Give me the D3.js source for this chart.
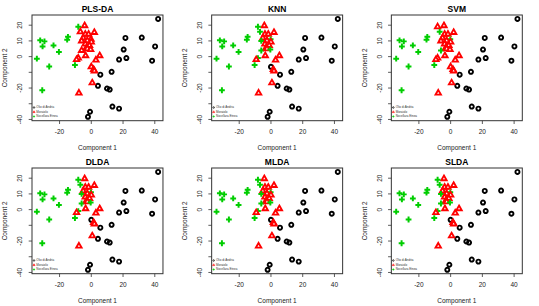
<!DOCTYPE html>
<html>
<head>
<meta charset="utf-8">
<script src="https://cdn.jsdelivr.net/npm/d3@7"></script>
<style>
  body { margin: 0; background: #fff; }
  svg { display: block; }
  text { font-family: "Liberation Sans", Arial, sans-serif; }
</style>
</head>
<body>
<svg id="chart" width="539" height="306"></svg>
<script>
// sample scores on the first two components (same for every panel)
const comp1 = [42.1, 21.5, 31.8, 40.2, 20.4, 17.5, 22.1, 38.3, 12.8, 5.7, 4.2, 9.9, 11.6, 13.3, 17.5, -0.8, -2.1,
  0.0, -4.2, -8.2, -6.9, 1.9, -3.8, -1.7, -5.1, -0.2, -6.1, -2.5, 0.0, -3.8, -1.1, -3.2, -6.1, -2.5, -0.4,
  -3.6, 5.3, -8.2, -9.3, 2.9, 1.5, 1.9, 0.6, -7.8,
  -14.7, -15.2, -32.2, -29.5, -30.7, -23.8, -20.4, -34.3, -26.5, -10.3, -30.9];
const comp2 = [24.0, 11.9, 12.1, 6.5, 4.5, -1.9, -0.9, -2.6, -9.7, -11.5, -18.6, -20.3, -21.0, -31.8, -33.1, -35.1, -38.3,
  -6.5, 19.7, 19.0, 15.8, 15.4, 14.3, 14.3, 11.9, 11.0, 10.0, 10.2, 9.3, 8.0, 7.1, 5.4, 3.9, 5.0, 4.5,
  0.6, 0.6, -0.9, -1.9, -2.2, -8.2, -9.1, -16.7, -23.2,
  12.6, 10.8, 10.4, 9.7, 6.5, 7.1, 3.0, -1.3, -6.3, -5.4, -21.4];

// predicted class per method (1, 2, 3 = index into classNames)
const plsdaClass = [1,1,1,1,1,1,1,1,1,1,1,1,1,1,1,1,1,
  2,2,3,2,2,2,2,2,2,2,2,2,2,2,2,2,2,2,2,2,2,2,2,2,2,2,2,
  3,3,3,3,3,3,3,3,3,3,3];
const knnClass = [1,1,1,1,1,1,1,1,1,1,1,1,1,1,1,1,1,
  1,2,3,3,2,2,2,2,3,3,2,2,2,2,2,3,2,3,2,2,3,2,2,2,2,2,2,
  3,3,3,3,3,3,3,3,3,3,3];
const svmClass = [1,1,1,1,1,1,1,1,1,1,1,1,1,1,1,1,1,
  2,2,2,3,2,2,2,2,3,2,2,2,2,2,2,3,2,2,2,2,2,2,2,2,2,2,2,
  3,3,3,3,3,3,3,3,3,3,3];
const dldaClass = [1,1,1,1,1,1,1,1,1,1,1,1,1,1,1,1,1,
  1,2,3,3,2,2,2,2,3,3,2,2,2,2,2,3,2,3,2,2,3,2,2,2,2,2,2,
  3,3,3,3,3,3,3,3,3,3,3];
const mldaClass = [1,1,1,1,1,1,1,1,1,1,1,1,1,1,1,1,1,
  1,2,3,3,2,2,2,2,3,3,2,2,2,2,2,3,2,3,2,2,3,2,2,2,2,2,2,
  3,3,3,3,3,3,3,3,3,3,3];
const sldaClass = [1,1,1,1,1,1,1,1,1,1,1,1,1,1,1,1,1,
  1,2,3,3,2,2,2,2,3,3,2,2,2,2,2,3,2,3,2,2,3,2,2,2,2,2,2,
  3,3,3,3,3,3,3,3,3,3,3];

const methods = ["PLS-DA", "KNN", "SVM", "DLDA", "MLDA", "SLDA"];
const predictions = [plsdaClass, knnClass, svmClass, dldaClass, mldaClass, sldaClass];
const classNames = ["Olio di Andria", "Moraiolo", "Nocellara Etnea"];
const classColors = ["#000000", "#FF0000", "#00CD00"];

const xTicks = [-20, 0, 20, 40];
const yTicks = [-40, -30, -20, -10, 0, 10, 20];
const yTickLabels = [-40, -20, 0, 10, 20];   // R drops the labels that would overlap

const W = 539, H = 306;
const panelW = W / 3, panelH = H / 2;
const margin = {left: 32, right: 16.7, top: 15, bottom: 32.3};
const boxW = panelW - margin.left - margin.right;
const boxH = panelH - margin.top - margin.bottom;

const svg = d3.select("#chart");
svg.append("rect").attr("width", W).attr("height", H).attr("fill", "#fff");

// R style axis range: data range widened by 4% on each side
const ext = (v) => {
  const [lo, hi] = d3.extent(v);
  const pad = (hi - lo) * 0.04;
  return [lo - pad, hi + pad];
};
const xScale = d3.scaleLinear().domain(ext(comp1)).range([0, boxW]);
const yScale = d3.scaleLinear().domain(ext(comp2)).range([boxH, 0]);

const triangle = d3.symbol().type(d3.symbolTriangle);
const crossPath = (s) => `M${-s},0H${s}M0,${-s}V${s}`;

const drawMarker = (sel, cls, size) => {
  const col = classColors[cls - 1];
  if (cls === 1) {
    sel.append("circle").attr("r", size * 0.7).attr("fill", "none")
      .attr("stroke", col).attr("stroke-width", size * 0.66);
  } else if (cls === 2) {
    sel.append("path").attr("d", triangle.size(size * size * 1.5)())
      .attr("fill", "#fff").attr("stroke", col).attr("stroke-width", size * 0.64)
      .attr("stroke-linejoin", "miter");
  } else {
    sel.append("path").attr("d", crossPath(size)).attr("fill", "none")
      .attr("stroke", col).attr("stroke-width", size * 0.68);
  }
};

methods.forEach((method, i) => {
  const col = i % 3, row = Math.floor(i / 3);
  const panel = svg.append("g")
    .attr("transform", `translate(${col * panelW},${row * panelH})`);
  const plot = panel.append("g")
    .attr("transform", `translate(${margin.left},${margin.top})`);

  // points
  const cls = predictions[i];
  comp1.forEach((x, k) => {
    const g = plot.append("g")
      .attr("transform", `translate(${xScale(x)},${yScale(comp2[k])})`);
    drawMarker(g, cls[k], 2.9);
  });

  // box
  plot.append("rect").attr("width", boxW).attr("height", boxH)
    .attr("fill", "none").attr("stroke", "#333").attr("stroke-width", 1);

  // x axis
  plot.selectAll(".xt").data(xTicks).enter().append("line")
    .attr("x1", d => xScale(d)).attr("x2", d => xScale(d))
    .attr("y1", boxH).attr("y2", boxH + 3.3)
    .attr("stroke", "#333").attr("stroke-width", 0.8);
  plot.selectAll(".xl").data(xTicks).enter().append("text")
    .attr("x", d => xScale(d)).attr("y", boxH + 12)
    .attr("text-anchor", "middle").attr("dominant-baseline", "middle")
    .attr("font-size", 6.5).attr("fill", "#222")
    .text(d => d);

  // y axis
  plot.selectAll(".yt").data(yTicks).enter().append("line")
    .attr("y1", d => yScale(d)).attr("y2", d => yScale(d))
    .attr("x1", 0).attr("x2", -3.3)
    .attr("stroke", "#333").attr("stroke-width", 0.8);
  plot.selectAll(".yl").data(yTickLabels).enter().append("text")
    .attr("transform", d => `translate(${-11.5},${yScale(d)}) rotate(-90)`)
    .attr("text-anchor", "middle").attr("dominant-baseline", "middle")
    .attr("font-size", 6.5).attr("fill", "#222")
    .text(d => d);

  // title and axis labels
  panel.append("text")
    .attr("x", margin.left + boxW / 2).attr("y", 11.7)
    .attr("text-anchor", "middle").attr("font-size", 8.5).attr("font-weight", "bold")
    .text(method);
  panel.append("text")
    .attr("x", margin.left + boxW / 2).attr("y", 149.5)
    .attr("text-anchor", "middle").attr("font-size", 6.5).attr("fill", "#222")
    .text("Component 1");
  panel.append("text")
    .attr("transform", `translate(5.5,${margin.top + boxH / 2}) rotate(-90)`)
    .attr("text-anchor", "middle").attr("dominant-baseline", "middle")
    .attr("font-size", 6.5).attr("fill", "#222")
    .text("Component 2");

  // legend, bottom left inside the box
  classNames.forEach((name, c) => {
    const ly = margin.top + boxH - 13.2 + c * 4.5;
    const lg = panel.append("g").attr("transform", `translate(${margin.left + 2},${ly})`);
    drawMarker(lg, c + 1, 1.1);
    lg.append("text").attr("x", 2.3).attr("y", 0)
      .attr("dominant-baseline", "middle").attr("font-size", 3)
      .attr("fill", "#333").text(name);
  });
});
</script>
</body>
</html>
